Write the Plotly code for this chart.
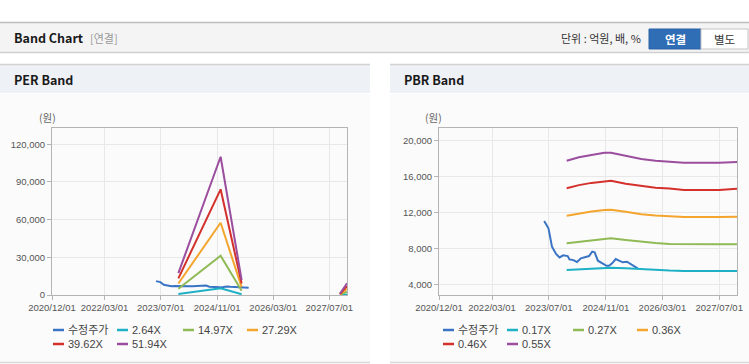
import plotly.graph_objects as go

W, H = 749, 364

# ---------------- data ----------------
tick_dates = ["2020-12-01", "2022-03-01", "2023-07-01", "2024-11-01", "2026-03-01", "2027-07-01"]
tick_labels = ["2020/12/01", "2022/03/01", "2023/07/01", "2024/11/01", "2026/03/01", "2027/07/01"]

price_dates = ["2023-05-22", "2023-06-28", "2023-07-28", "2023-09-01", "2023-10-01", "2023-11-01",
               "2023-12-10", "2023-12-25", "2024-01-28", "2024-02-28", "2024-04-01", "2024-05-10",
               "2024-06-10", "2024-07-07", "2024-07-28", "2024-08-25", "2024-10-01", "2024-11-07",
               "2024-11-28", "2024-12-25", "2025-01-25", "2025-02-22", "2025-03-25", "2025-05-01",
               "2025-06-07", "2025-07-12", "2025-08-01"]
price_values = [11050, 10240, 8190, 7380, 7000, 7230, 7150, 6780, 6700, 6480, 6890, 7070,
                7150, 7640, 7560, 6630, 6340, 6070, 6070, 6340, 6820, 6600, 6450, 6520,
                6220, 5890, 5780]

per_names = ["2.64X", "14.97X", "27.29X", "39.62X", "51.94X"]
per_dates = ["2023-12-01", "2024-12-01", "2025-06-01", "2026-08-01", "2027-10-01", "2027-12-01"]
per_264 = [885, 5300, 600, None, 50, 470]
per_1497 = [5015, 31300, 3400, None, 290, 2700]
per_2729 = [9140, 57500, 6300, None, 520, 4900]
per_3962 = [13270, 84100, 9100, None, 760, 7100]
per_5194 = [17400, 110000, 11900, None, 1000, 9300]

pbr_names = ["0.17X", "0.27X", "0.36X", "0.46X", "0.55X"]
pbr_dates = ["2023-12-01", "2024-03-15", "2024-07-01", "2024-10-20", "2024-12-15", "2025-04-20",
             "2025-09-01", "2026-01-01", "2026-05-01", "2026-09-01", "2027-07-01", "2027-11-15",
             "2027-12-01"]
pbr_017 = [5590, 5680, 5780, 5840, 5850, 5790, 5680, 5590, 5530, 5490, 5480, 5480, 5480]
pbr_027 = [8570, 8720, 8880, 9080, 9130, 8950, 8750, 8600, 8500, 8470, 8460, 8460, 8470]
pbr_036 = [11640, 11900, 12100, 12280, 12310, 12080, 11800, 11660, 11600, 11500, 11500, 11500, 11520]
pbr_046 = [14700, 15050, 15300, 15500, 15540, 15200, 14950, 14750, 14680, 14510, 14510, 14600, 14650]
pbr_055 = [17770, 18150, 18400, 18660, 18650, 18300, 17960, 17770, 17660, 17550, 17550, 17620, 17640]

per_yticks = [0, 30000, 60000, 90000, 120000]
pbr_yticks = [4000, 8000, 12000, 16000, 20000]

price_name = "수정주가"
colors = ["#3a74c4", "#1eb0c4", "#8fba55", "#f4a52e", "#d4312c", "#9b4d9e"]

# ---------------- helpers ----------------
def X(px):
    return px / W

def Y(py):
    return 1 - py / H

FONT = "Liberation Sans, Noto Sans CJK KR, sans-serif"
KFONT = "Noto Sans CJK KR, Liberation Sans, sans-serif"

fig = go.Figure()

# PER traces
fig.add_trace(go.Scatter(x=price_dates, y=price_values, mode="lines", name=price_name,
                         line=dict(color=colors[0], width=2), xaxis="x", yaxis="y"))
for i, vals in enumerate([per_264, per_1497, per_2729, per_3962, per_5194]):
    fig.add_trace(go.Scatter(x=per_dates, y=vals, mode="lines", name=per_names[i],
                             line=dict(color=colors[i + 1], width=2), xaxis="x", yaxis="y"))

# PBR traces
fig.add_trace(go.Scatter(x=price_dates, y=price_values, mode="lines", name=price_name,
                         line=dict(color=colors[0], width=2), xaxis="x2", yaxis="y2"))
for i, vals in enumerate([pbr_017, pbr_027, pbr_036, pbr_046, pbr_055]):
    fig.add_trace(go.Scatter(x=pbr_dates, y=vals, mode="lines", name=pbr_names[i],
                             line=dict(color=colors[i + 1], width=2), xaxis="x2", yaxis="y2"))

grid = "#e8e8e8"
axline = "#b4b4b4"
tickfont = dict(family=FONT, size=9.5, color="#555555")

def xaxis_cfg(x0, x1, anchor):
    return dict(type="date", range=["2020-12-01", "2027-12-01"], domain=[X(x0), X(x1)],
                tickvals=tick_dates, ticktext=tick_labels, showgrid=True, gridcolor=grid,
                showline=True, linecolor=axline, mirror=True, ticks="outside", ticklen=4,
                tickcolor=axline, tickfont=tickfont, zeroline=False, fixedrange=True,
                anchor=anchor, automargin=False)

def yaxis_cfg(rng, tv, anchor):
    return dict(range=rng, domain=[Y(295), Y(128)], tickvals=tv, tickformat=",",
                showgrid=True, gridcolor=grid, showline=True, linecolor=axline, mirror=True,
                ticks="outside", ticklen=4, tickcolor=axline, tickfont=tickfont,
                zeroline=False, anchor=anchor, fixedrange=True, automargin=False)

shapes = []
ann = []

def rect(x0, y0, x1, y1, fill, line=None, lw=0):
    shapes.append(dict(type="rect", xref="paper", yref="paper", x0=X(x0), x1=X(x1),
                       y0=Y(y1), y1=Y(y0), fillcolor=fill, layer="below",
                       line=dict(color=line or fill, width=lw)))

def hline(x0, x1, y, color, w=1):
    shapes.append(dict(type="line", xref="paper", yref="paper", x0=X(x0), x1=X(x1),
                       y0=Y(y), y1=Y(y), line=dict(color=color, width=w), layer="below"))

def text(x, y, s, size=11, color="#333", anchor="left", family=KFONT, bold=False):
    if bold:
        s = "<b>" + s + "</b>"
    ann.append(dict(xref="paper", yref="paper", x=X(x), y=Y(y), text=s, showarrow=False,
                    xanchor=anchor, yanchor="middle", font=dict(family=family, size=size, color=color)))

# top header bar
rect(0, 23, 749, 52, "#f4f4f4")
hline(0, 749, 22.5, "#bdbdbd", 1.5)
hline(0, 749, 52.5, "#cfcfcf", 1.5)
text(12, 38, "Band Chart", size=12.5, color="#1a1a1a", bold=True)
text(88, 38, "[연결]", size=11, color="#999999")
text(643, 38, "단위 : 억원, 배, %", size=11, color="#333333", anchor="right")
rect(649, 29, 701, 49, "#2f6db5", "#2a62a6", 1)
text(675, 39, "연결", size=11.5, color="#ffffff", anchor="center", bold=True)
rect(701, 29, 748, 49, "#ffffff", "#c4c4c4", 1)
text(724.5, 39, "별도", size=11.5, color="#333333", anchor="center")

# panels
for (px0, px1, title) in [(0, 370, "PER Band"), (390, 749, "PBR Band")]:
    rect(px0, 94, px1, 362, "#fbfbfb")
    rect(px0, 65, px1, 93, "#eef1f6")
    hline(px0, px1, 64.5, "#d2d2d2", 1.5)
    hline(px0, px1, 362.5, "#d8d8d8", 1.5)
    text(px0 + 12, 79, title, size=12.5, color="#1a1a1a", bold=True)

text(47.5, 118, "(원)", size=10.5, color="#666666", anchor="center")
text(434, 118, "(원)", size=10.5, color="#666666", anchor="center")

# manual legends
def legend(cols, rows, names):
    pos = [(cols[0], rows[0]), (cols[1], rows[0]), (cols[2], rows[0]), (cols[3], rows[0]),
           (cols[0], rows[1]), (cols[1], rows[1])]
    for k, nm in enumerate(names):
        lx, ly = pos[k]
        shapes.append(dict(type="line", xref="paper", yref="paper", x0=X(lx), x1=X(lx + 11),
                           y0=Y(ly), y1=Y(ly), line=dict(color=colors[k], width=2.5)))
        text(lx + 13, ly, nm, size=11, color="#444444", family=FONT)

legend([53, 117, 183, 247], [330, 344], [price_name] + per_names)
legend([443, 507, 573, 637], [330, 344], [price_name] + pbr_names)

fig.update_layout(
    width=W, height=H, margin=dict(l=0, r=0, t=0, b=0, pad=0, autoexpand=False),
    paper_bgcolor="#ffffff", plot_bgcolor="#ffffff", showlegend=False,
    xaxis=xaxis_cfg(52, 347, "y"), yaxis=yaxis_cfg([0, 132900], per_yticks, "x"),
    xaxis2=xaxis_cfg(439, 737, "y2"), yaxis2=yaxis_cfg([2810, 21415], pbr_yticks, "x2"),
    shapes=shapes, annotations=ann,
)

fig.write_html("out.html", config={"responsive": False, "displayModeBar": False},
               post_script="document.body.style.margin='0px';document.body.style.padding='0px';")
